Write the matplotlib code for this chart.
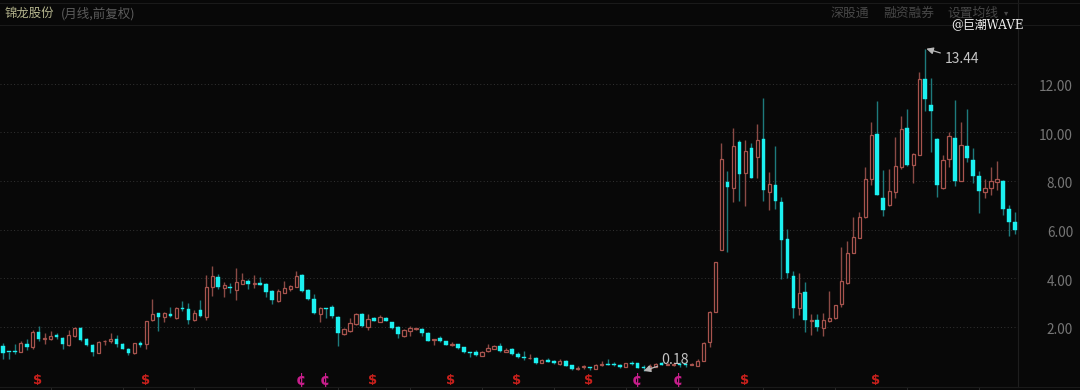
import matplotlib
matplotlib.use("Agg")
import matplotlib.pyplot as plt
from matplotlib.lines import Line2D
from matplotlib.transforms import ScaledTranslation

plt.rcParams["font.family"] = ["Noto Sans CJK SC", "DejaVu Sans"]

# monthly candles: body top, body bottom, high, low
# 0 = falling (cyan), 1 = rising (red)
rising = [
    0,0,0,1,0,1,0,1,1,0, 0,1,1,0,0,0,1,1,1,0, 0,0,1,0,1,1,0,1,0,1,
    0,0,1,0,1,1,0,1,0,1, 1,0,1,0,0,0,1,1,1,1, 0,0,0,1,0,0,0,1,1,1,
    0,1,0,1,0,0,0,1,1,1, 0,0,1,0,0,1,0,0,0,0, 1,1,1,0,1,0,0,0,1,0,
    1,0,0,1,0,0,1,1,0,1, 1,0,0,0,1,0,0,0,1,1, 0,1,1,0,0,1,1,1,1,1,
    1,0,1,0,1,0,1,0,1,0, 0,0,0,1,0,1,0,1,1,1, 1,1,1,1,1,1,0,0,1,1,
    1,0,1,1,0,0,0,1,1,0, 1,0,0,0,1,1,1,0,0,0,
]
body_top = [
    1.21,0.97,1.02,1.32,1.29,1.80,1.78,1.54,1.62,1.66, 1.55,1.65,1.93,1.96,1.50,1.25,1.37,1.43,1.51,1.50,
    1.29,1.08,1.32,1.34,2.22,2.54,2.57,2.55,2.52,2.77, 2.76,2.73,2.57,2.69,3.64,4.07,4.06,3.72,3.64,3.83,
    3.91,3.87,3.80,3.79,3.74,3.46,3.46,3.58,3.66,4.10, 4.14,3.50,3.14,2.78,2.77,2.81,2.40,1.89,2.17,2.51,
    2.52,2.30,2.35,2.40,2.36,2.19,1.99,1.87,1.95,1.93, 1.92,1.73,1.51,1.52,1.40,1.29,1.28,1.15,0.96,0.96,
    0.96,1.12,1.22,1.21,1.04,1.07,0.86,0.77,0.73,0.71, 0.62,0.62,0.60,0.59,0.60,0.41,0.32,0.37,0.34,0.44,
    0.48,0.48,0.47,0.44,0.49,0.51,0.49,0.33,0.38,0.47, 0.49,0.45,0.47,0.47,0.45,0.45,0.59,1.34,2.62,4.66,
    8.90,7.97,9.42,9.60,9.22,9.35,9.67,9.71,7.86,7.84, 7.15,5.61,4.10,3.40,3.41,2.28,2.28,2.26,2.34,2.88,
    3.87,5.03,5.68,6.50,8.09,9.87,9.92,7.28,7.60,8.61, 10.12,10.16,9.11,12.21,12.18,11.14,9.74,8.85,9.86,9.77,
    9.48,9.42,8.86,8.20,7.72,8.01,8.09,7.98,6.83,6.32,
]
body_bottom = [
    0.91,0.95,0.96,0.97,1.18,1.15,1.50,1.48,1.50,1.58, 1.28,1.25,1.62,1.45,1.26,0.95,0.93,1.41,1.41,1.28,
    1.10,0.92,0.92,1.25,1.29,2.28,2.39,2.41,2.46,2.36, 2.72,2.28,2.28,2.44,2.41,3.62,3.62,3.58,3.59,3.51,
    3.77,3.77,3.77,3.73,3.42,3.11,3.07,3.40,3.55,3.65, 3.47,3.15,2.55,2.54,2.74,2.43,1.76,1.70,1.82,2.11,
    2.03,1.98,2.25,2.21,2.25,1.96,1.70,1.62,1.81,1.91, 1.74,1.43,1.47,1.43,1.26,1.25,1.11,0.96,0.92,0.82,
    0.81,0.99,1.08,0.99,0.97,0.88,0.75,0.73,0.70,0.51, 0.52,0.56,0.51,0.48,0.40,0.27,0.27,0.34,0.32,0.27,
    0.41,0.44,0.43,0.34,0.34,0.45,0.30,0.29,0.25,0.36, 0.44,0.43,0.43,0.44,0.44,0.43,0.38,0.58,1.39,2.62,
    5.17,7.74,7.69,8.27,8.31,8.13,8.97,7.64,7.56,7.19, 5.55,4.20,2.76,2.76,2.29,2.25,1.97,1.93,2.25,2.34,
    2.92,3.78,5.05,5.66,6.50,8.06,7.43,6.80,7.01,7.54, 8.56,8.64,8.67,9.07,11.38,10.89,7.84,7.71,8.89,7.98,
    8.01,8.94,8.19,7.57,7.53,7.72,7.95,6.83,6.29,5.99,
]
high = [
    1.32,0.97,1.29,1.43,1.48,1.87,2.04,1.76,1.84,1.74, 1.59,1.87,2.00,1.98,1.54,1.28,1.43,1.44,1.76,1.66,
    1.32,1.11,1.34,1.43,2.25,3.14,2.58,2.62,2.80,2.80, 3.07,2.96,2.69,3.10,4.12,4.50,4.16,3.85,3.81,4.40,
    4.22,3.98,4.12,4.03,3.79,3.51,3.54,3.88,3.70,4.28, 4.17,3.57,3.35,2.83,2.77,2.89,2.44,1.93,2.35,2.55,
    2.55,2.52,2.39,2.48,2.41,2.21,2.03,1.89,2.03,1.95, 1.95,1.80,1.51,1.62,1.43,1.39,1.30,1.18,0.97,1.04,
    0.99,1.29,1.23,1.34,1.11,1.11,0.97,0.99,0.88,0.74, 0.69,0.71,0.63,0.67,0.63,0.44,0.38,0.44,0.36,0.47,
    0.60,0.66,0.56,0.45,0.52,0.58,0.52,0.41,0.45,0.49, 0.56,0.52,0.56,0.55,0.52,0.49,0.66,1.36,2.63,4.67,
    9.55,8.42,10.16,9.68,9.68,9.55,10.33,11.40,8.35,9.44, 7.35,6.02,4.31,4.20,3.83,2.51,2.52,2.55,3.47,2.89,
    5.27,5.54,6.50,6.72,8.59,10.41,11.29,8.45,8.48,9.79, 10.68,10.94,9.16,12.47,13.44,12.22,9.75,9.08,10.03,11.32,
    10.41,10.96,9.34,8.42,8.06,8.59,8.82,8.04,7.02,6.71,
]
low = [
    0.69,0.66,0.86,0.95,1.04,1.10,1.43,1.29,1.45,1.51, 1.08,1.21,1.56,1.43,1.22,0.80,0.91,1.23,1.34,1.18,
    1.07,0.85,0.89,1.17,1.07,2.25,1.84,2.21,2.41,2.33, 2.66,2.11,2.24,2.41,2.28,3.28,3.54,3.24,3.37,3.10,
    3.74,3.57,3.59,3.72,3.24,2.95,3.03,3.37,3.47,3.62, 3.43,3.10,2.52,2.19,2.36,2.37,1.21,1.67,1.80,2.07,
    2.00,1.87,2.22,2.19,2.22,1.92,1.52,1.56,1.62,1.88, 1.63,1.40,1.26,1.36,1.23,1.21,1.08,0.93,0.74,0.80,
    0.80,0.96,1.07,0.96,0.95,0.85,0.73,0.63,0.67,0.48, 0.51,0.53,0.48,0.43,0.37,0.23,0.22,0.26,0.22,0.26,
    0.38,0.41,0.40,0.32,0.33,0.44,0.29,0.18,0.21,0.33, 0.41,0.41,0.40,0.36,0.36,0.41,0.37,0.58,1.18,2.62,
    5.16,5.07,7.15,7.17,6.98,8.11,8.13,7.17,6.82,6.83, 3.95,4.00,2.34,2.48,1.80,1.64,1.84,1.62,2.19,2.32,
    2.82,3.74,5.02,5.65,6.47,7.83,7.41,6.57,6.98,7.30, 8.50,8.60,7.93,9.05,10.86,9.20,7.35,7.67,8.59,7.80,
    7.98,8.79,7.93,6.69,7.28,7.42,7.63,6.58,5.73,5.83,
]

y_ticks = [2, 4, 6, 8, 10, 12]
y_labels = ["2.00", "4.00", "6.00", "8.00", "10.00", "12.00"]
x_ticks = [8, 20, 32, 44, 56, 68, 80, 92, 104, 116, 127, 139, 151, 163]
dollar_marks = [6, 24, 62, 75, 86, 98, 124, 146]
cent_marks = [50, 54, 106, 113]

BG = "#080808"
UP = "#a8544e"
UP_WICK = "#8a4a45"
DOWN = "#1cf0f0"
DOWN_WICK = "#1d7a7c"

fig = plt.figure(figsize=(10.8, 3.9), dpi=100, facecolor=BG)
ax = fig.add_axes([0, 3 / 390, 1018 / 1080, 387 / 390], facecolor=BG)
ax.set_xlim(-0.451, 169.5)
ax.set_ylim(-0.48, 15.444)

ax.hlines(y_ticks, -0.451, 169.5, color="#333333", lw=0.7, linestyle=(0, (1, 2.5)), zorder=1)

xs = range(len(rising))
for i in xs:
    if rising[i]:
        ax.vlines(i, low[i], high[i], color=UP_WICK, lw=1.0, zorder=2)
        ax.bar(i, body_top[i] - body_bottom[i], bottom=body_bottom[i], width=0.55,
               facecolor=BG, edgecolor=UP, lw=0.9, zorder=3)
    else:
        ax.vlines(i, low[i], high[i], color=DOWN_WICK, lw=1.0, zorder=2)
        ax.bar(i, max(body_top[i] - body_bottom[i], 0.04), bottom=body_bottom[i], width=0.62,
               facecolor=DOWN, edgecolor=DOWN, lw=0.3, zorder=3)

for i in dollar_marks:
    ax.text(i - 0.2, -0.2, "$", color="#c8201c", fontsize=9.5, fontweight="bold",
            family="DejaVu Sans", ha="center", va="center", zorder=4)
for i in cent_marks:
    ax.text(i - 0.2, -0.2, "¢", color="#c81e8c", fontsize=10.5, fontweight="bold",
            family="DejaVu Sans", ha="center", va="center", zorder=4)

# high / low labels with the little arrows
ax.annotate("13.44", xy=(154.2, 13.44), xytext=(160.1, 13.0), color="#c4c4c4", fontsize=10,
            ha="center", va="center", zorder=5,
            arrowprops=dict(arrowstyle="-|>", color="#b8b8b8", lw=0.9, shrinkA=1, shrinkB=0))
ax.annotate("0.18", xy=(107, 0.18), xytext=(112.3, 0.62), color="#c4c4c4", fontsize=10.2,
            ha="center", va="center", zorder=5,
            arrowprops=dict(arrowstyle="-|>", color="#b8b8b8", lw=0.9, shrinkA=1, shrinkB=0))

ax.set_yticks(y_ticks, y_labels, color="#767676", fontsize=9.8, ha="right")
ax.yaxis.tick_right()
ax.tick_params(axis="y", length=0, pad=39.6)
# labels sit a touch under their grid lines in the original
for lab in ax.get_yticklabels():
    lab.set_transform(lab.get_transform() + ScaledTranslation(0, -2 / 100, fig.dpi_scale_trans))
ax.set_xticks(x_ticks, [""] * len(x_ticks))
ax.tick_params(axis="x", length=2.2, width=0.7, color="#2a2a2a")
for name in ["top", "left"]:
    ax.spines[name].set_visible(False)
ax.spines["right"].set_color("#1e1e1e")
ax.spines["right"].set_linewidth(0.8)
ax.spines["bottom"].set_color("#1e1e1e")
ax.spines["bottom"].set_linewidth(0.8)

# header strip and the lines running across the full width
for y_px in [3, 24.5, 387]:
    fig.add_artist(Line2D([0, 1], [1 - y_px / 390] * 2, color="#1a1a1a", lw=0.8))

fig.text(5 / 1080, 1 - 13.5 / 390, "锦龙股份", color="#b4b48c", fontsize=8.9, va="center")
fig.text(61 / 1080, 1 - 13.5 / 390, "(月线,前复权)", color="#5c5c5c", fontsize=9, va="center")
fig.text(831 / 1080, 1 - 13.5 / 390, "深股通", color="#474747", fontsize=9.3, va="center")
fig.text(883 / 1080, 1 - 13.5 / 390, "融资融券", color="#474747", fontsize=9.2, va="center")
fig.text(947 / 1080, 1 - 13.5 / 390, "设置均线", color="#474747", fontsize=9.2, va="center")
fig.text(1004 / 1080, 1 - 13 / 390, "▾", color="#474747", fontsize=6, va="center",
         family="DejaVu Sans")
fig.text(951 / 1080, 1 - 24.5 / 390, "@巨潮WAVE", color="#f2f2f2", fontsize=8.6, va="center",
         family=["DejaVu Serif", "Noto Sans CJK SC"], zorder=10)

fig.savefig("out.png", dpi=100, facecolor=BG)
